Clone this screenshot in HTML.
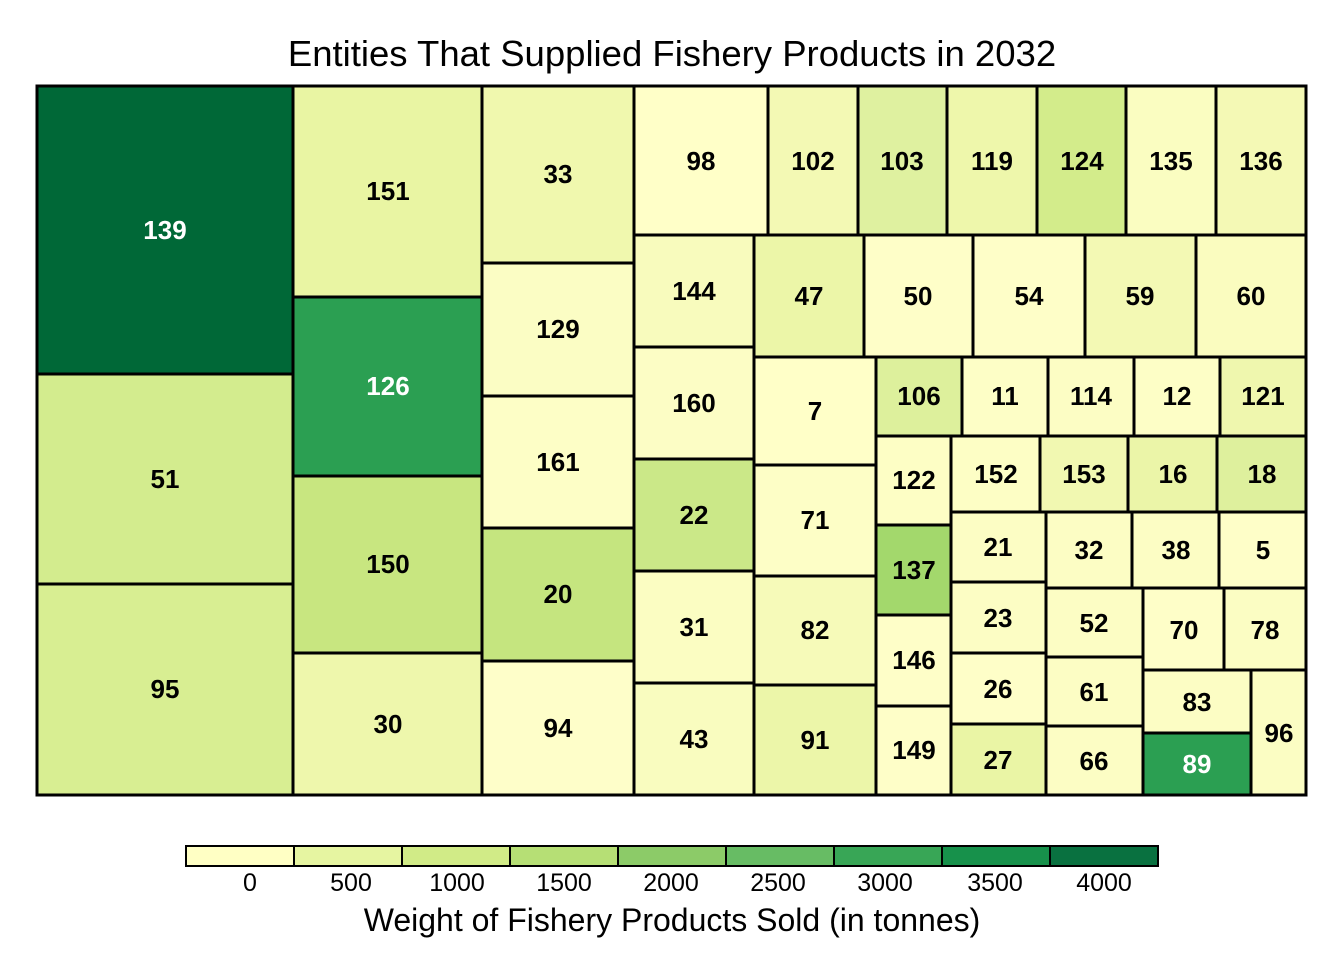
<!DOCTYPE html>
<html><head><meta charset="utf-8"><style>body{margin:0;background:#fff}svg{display:block}</style></head><body>
<svg width="1344" height="960" xmlns="http://www.w3.org/2000/svg" font-family="Liberation Sans, Arial, sans-serif">
<rect width="1344" height="960" fill="#fff"/>
<text x="672" y="66" font-size="36.5" text-anchor="middle">Entities That Supplied Fishery Products in 2032</text>
<g stroke="#000" stroke-width="3">
<rect x="37" y="86" width="256" height="288" fill="#006837"/>
<rect x="37" y="374" width="256" height="210" fill="#d3ec8e"/>
<rect x="37" y="584" width="256" height="211" fill="#d8ee92"/>
<rect x="293" y="86" width="189" height="211" fill="#e9f5a3"/>
<rect x="293" y="297" width="189" height="179" fill="#2b9f52"/>
<rect x="293" y="476" width="189" height="177" fill="#c8e680"/>
<rect x="293" y="653" width="189" height="142" fill="#eef7ac"/>
<rect x="482" y="86" width="152" height="177" fill="#f0f8ae"/>
<rect x="482" y="263" width="152" height="133" fill="#fbfdc4"/>
<rect x="482" y="396" width="152" height="132" fill="#fdfec6"/>
<rect x="482" y="528" width="152" height="133" fill="#c5e57f"/>
<rect x="482" y="661" width="152" height="134" fill="#fefec9"/>
<rect x="634" y="86" width="134" height="149" fill="#ffffc8"/>
<rect x="768" y="86" width="90" height="149" fill="#f3f9b4"/>
<rect x="858" y="86" width="89" height="149" fill="#dff1a0"/>
<rect x="947" y="86" width="90" height="149" fill="#eef7ab"/>
<rect x="1037" y="86" width="89" height="149" fill="#d3ec8b"/>
<rect x="1126" y="86" width="90" height="149" fill="#fafdc1"/>
<rect x="1216" y="86" width="90" height="149" fill="#f4f9b5"/>
<rect x="634" y="235" width="120" height="112" fill="#f8fbbd"/>
<rect x="634" y="347" width="120" height="112" fill="#fcfdc5"/>
<rect x="634" y="459" width="120" height="112" fill="#cbe888"/>
<rect x="634" y="571" width="120" height="112" fill="#fbfdc2"/>
<rect x="634" y="683" width="120" height="112" fill="#f9fcbf"/>
<rect x="754" y="235" width="110" height="122" fill="#ecf6a8"/>
<rect x="864" y="235" width="109" height="122" fill="#fefec8"/>
<rect x="973" y="235" width="112" height="122" fill="#fefec8"/>
<rect x="1085" y="235" width="111" height="122" fill="#f3f9b4"/>
<rect x="1196" y="235" width="110" height="122" fill="#fafcbf"/>
<rect x="754" y="357" width="122" height="108" fill="#ffffc8"/>
<rect x="754" y="465" width="122" height="111" fill="#fdfec6"/>
<rect x="754" y="576" width="122" height="109" fill="#f6fab9"/>
<rect x="754" y="685" width="122" height="110" fill="#ecf6a9"/>
<rect x="876" y="357" width="86" height="79" fill="#ddf09c"/>
<rect x="962" y="357" width="86" height="79" fill="#fdfec6"/>
<rect x="1048" y="357" width="86" height="79" fill="#fcfdc4"/>
<rect x="1134" y="357" width="86" height="79" fill="#fdfec6"/>
<rect x="1220" y="357" width="86" height="79" fill="#eff7ae"/>
<rect x="876" y="436" width="75" height="89" fill="#fdfec5"/>
<rect x="876" y="525" width="75" height="90" fill="#a3d86c"/>
<rect x="876" y="615" width="75" height="91" fill="#fefec8"/>
<rect x="876" y="706" width="75" height="89" fill="#fefec8"/>
<rect x="951" y="436" width="89" height="76" fill="#fdfec5"/>
<rect x="1040" y="436" width="88" height="76" fill="#f1f8b1"/>
<rect x="1128" y="436" width="89" height="76" fill="#ebf5a8"/>
<rect x="1217" y="436" width="89" height="76" fill="#def09d"/>
<rect x="951" y="512" width="95" height="70" fill="#fcfdc4"/>
<rect x="951" y="582" width="95" height="71" fill="#fcfdc4"/>
<rect x="951" y="653" width="95" height="71" fill="#fefec8"/>
<rect x="951" y="724" width="95" height="71" fill="#eaf5a5"/>
<rect x="1046" y="512" width="86" height="76" fill="#fcfdc4"/>
<rect x="1132" y="512" width="87" height="76" fill="#fcfdc4"/>
<rect x="1219" y="512" width="87" height="76" fill="#fefec8"/>
<rect x="1046" y="588" width="97" height="69" fill="#fcfdc4"/>
<rect x="1046" y="657" width="97" height="69" fill="#fcfdc4"/>
<rect x="1046" y="726" width="97" height="69" fill="#fcfdc4"/>
<rect x="1143" y="588" width="81" height="82" fill="#fefec8"/>
<rect x="1224" y="588" width="82" height="82" fill="#fbfdc3"/>
<rect x="1143" y="670" width="108" height="63" fill="#fcfdc4"/>
<rect x="1143" y="733" width="108" height="62" fill="#2b9f52"/>
<rect x="1251" y="670" width="55" height="125" fill="#fbfdc3"/>
</g>
<g font-weight="bold" font-size="26" text-anchor="middle" fill="#000">
<text x="165" y="239" fill="#fff">139</text>
<text x="165" y="488">51</text>
<text x="165" y="698">95</text>
<text x="388" y="200">151</text>
<text x="388" y="395" fill="#fff">126</text>
<text x="388" y="573">150</text>
<text x="388" y="733">30</text>
<text x="558" y="183">33</text>
<text x="558" y="338">129</text>
<text x="558" y="471">161</text>
<text x="558" y="603">20</text>
<text x="558" y="737">94</text>
<text x="701" y="170">98</text>
<text x="813" y="170">102</text>
<text x="902" y="170">103</text>
<text x="992" y="170">119</text>
<text x="1082" y="170">124</text>
<text x="1171" y="170">135</text>
<text x="1261" y="170">136</text>
<text x="694" y="300">144</text>
<text x="694" y="412">160</text>
<text x="694" y="524">22</text>
<text x="694" y="636">31</text>
<text x="694" y="748">43</text>
<text x="809" y="305">47</text>
<text x="918" y="305">50</text>
<text x="1029" y="305">54</text>
<text x="1140" y="305">59</text>
<text x="1251" y="305">60</text>
<text x="815" y="420">7</text>
<text x="815" y="529">71</text>
<text x="815" y="639">82</text>
<text x="815" y="749">91</text>
<text x="919" y="405">106</text>
<text x="1005" y="405">11</text>
<text x="1091" y="405">114</text>
<text x="1177" y="405">12</text>
<text x="1263" y="405">121</text>
<text x="914" y="489">122</text>
<text x="914" y="579">137</text>
<text x="914" y="669">146</text>
<text x="914" y="759">149</text>
<text x="996" y="483">152</text>
<text x="1084" y="483">153</text>
<text x="1173" y="483">16</text>
<text x="1262" y="483">18</text>
<text x="998" y="556">21</text>
<text x="998" y="627">23</text>
<text x="998" y="698">26</text>
<text x="998" y="769">27</text>
<text x="1089" y="559">32</text>
<text x="1176" y="559">38</text>
<text x="1263" y="559">5</text>
<text x="1094" y="632">52</text>
<text x="1094" y="701">61</text>
<text x="1094" y="770">66</text>
<text x="1184" y="639">70</text>
<text x="1265" y="639">78</text>
<text x="1197" y="711">83</text>
<text x="1197" y="773" fill="#fff">89</text>
<text x="1279" y="742">96</text>
</g>
<g stroke="#000" stroke-width="2">
<rect x="186" y="846" width="108" height="20" fill="#ffffc4"/>
<rect x="294" y="846" width="108" height="20" fill="#e6f5a1"/>
<rect x="402" y="846" width="108" height="20" fill="#d1eb87"/>
<rect x="510" y="846" width="108" height="20" fill="#b6df75"/>
<rect x="618" y="846" width="108" height="20" fill="#8ccb68"/>
<rect x="726" y="846" width="108" height="20" fill="#67bc64"/>
<rect x="834" y="846" width="108" height="20" fill="#38a656"/>
<rect x="942" y="846" width="108" height="20" fill="#17914b"/>
<rect x="1050" y="846" width="108" height="20" fill="#097140"/>
</g>
<g font-size="25" text-anchor="middle">
<text x="250" y="891">0</text><text x="351" y="891">500</text><text x="457" y="891">1000</text><text x="564" y="891">1500</text><text x="671" y="891">2000</text><text x="778" y="891">2500</text><text x="885" y="891">3000</text><text x="995" y="891">3500</text><text x="1104" y="891">4000</text>
</g>
<text x="672" y="931" font-size="32" text-anchor="middle">Weight of Fishery Products Sold (in tonnes)</text>
</svg>
</body></html>
